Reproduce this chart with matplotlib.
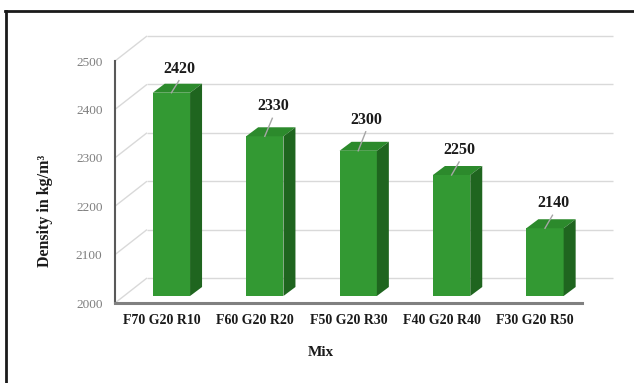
import matplotlib
matplotlib.use("Agg")
import matplotlib.pyplot as plt
import numpy as np
from matplotlib.patches import Polygon
from matplotlib.lines import Line2D

mixes = ["F70 G20 R10", "F60 G20 R20", "F50 G20 R30", "F40 G20 R40", "F30 G20 R50"]
density = [2420, 2330, 2300, 2250, 2140]
y_ticks = [2000, 2100, 2200, 2300, 2400, 2500]

# how far each value label sits above its bar (px), as placed in the original
label_lift = [24, 30, 31, 25, 25]

W, H = 634, 383
FRONT_FACE = "#339933"
TOP_FACE = "#2c8a2c"
SIDE_FACE = "#1f651f"
GRID = "#d9d9d9"

plt.rcParams["font.family"] = ["Liberation Serif", "DejaVu Serif"]


def px(v):
    return v / W


def py(v):
    return 1 - v / H


def run():
    fig = plt.figure(figsize=(W / 100, H / 100), dpi=100)
    # front plane of the 3D chart
    left, right, top, bottom = 115, 582, 61, 303
    ax = fig.add_axes([px(left), py(bottom), (right - left) / W, (bottom - top) / H])
    n = len(mixes)
    ax.set_xlim(-0.5, n - 0.5)
    ax.set_ylim(y_ticks[0], y_ticks[-1])

    ux = (right - left) / n                        # px per category
    uy = (bottom - top) / (y_ticks[-1] - y_ticks[0])  # px per unit

    def dx(p):
        return p / ux

    def dy(p):
        return p / uy

    # back wall gridlines and the diagonals that join them to the axis
    wall_x, wall_y = dx(32), dy(25)
    x_end = n - 0.5 + dx(31)
    for v in y_ticks:
        ax.plot([-0.5, -0.5 + wall_x], [v, v + wall_y], color=GRID, lw=1,
                zorder=0, clip_on=False, solid_capstyle="butt")
        ax.plot([-0.5 + wall_x, x_end], [v + wall_y, v + wall_y], color=GRID,
                lw=1, zorder=0, clip_on=False, solid_capstyle="butt")

    # bars: front face, top face, side face
    x = np.arange(n)
    off_x, off_y = dx(9.7), dy(7)
    depth_x, depth_y = dx(12), dy(9)
    w = 37.3 / ux
    base = y_ticks[0] + off_y
    for i, val in enumerate(density):
        xl = x[i] + off_x - w / 2
        xr = xl + w
        t = val + off_y
        ax.bar(xl + w / 2, t - base, bottom=base, width=w, color=FRONT_FACE,
               zorder=3, clip_on=False)
        ax.add_patch(Polygon([(xl, t), (xl + depth_x, t + depth_y),
                              (xr + depth_x, t + depth_y), (xr, t)],
                             closed=True, facecolor=TOP_FACE, edgecolor="none",
                             zorder=3, clip_on=False))
        ax.add_patch(Polygon([(xr, base), (xr + depth_x, base + depth_y),
                              (xr + depth_x, t + depth_y), (xr, t)],
                             closed=True, facecolor=SIDE_FACE, edgecolor="none",
                             zorder=3, clip_on=False))

        fc = x[i] + off_x
        lift = label_lift[i]
        ax.text(fc + dx(8), t + dy(lift), str(val), ha="center", va="center",
                fontsize=11.5, fontweight="bold", color="#1a1a1a", zorder=5)
        ax.plot([fc + dx(7.5), fc], [t + dy(lift - 12), t], color="#a6a6a6",
                lw=1, zorder=4, clip_on=False)

    for side in ["top", "right"]:
        ax.spines[side].set_visible(False)
    ax.spines["left"].set_color("#595959")
    ax.spines["left"].set_linewidth(1.5)
    ax.spines["bottom"].set_color("#808080")
    ax.spines["bottom"].set_linewidth(2.2)
    ax.patch.set_visible(False)

    ax.set_yticks(y_ticks)
    ax.set_yticklabels([str(v) for v in y_ticks], fontsize=9.5, color="#7f7f7f")
    ax.tick_params(axis="y", length=0, pad=9)
    ax.set_xticks(x)
    ax.set_xticklabels(mixes, fontsize=10, fontweight="bold", color="#1a1a1a")
    ax.tick_params(axis="x", length=0, pad=8)

    fig.text(px(45), py(211), "Density in kg/m³", rotation=90, ha="center",
             va="center", fontsize=11.5, fontweight="bold", color="#1a1a1a")
    fig.text(px(320.5), py(352), "Mix", ha="center", va="center",
             fontsize=11, fontweight="bold", color="#1a1a1a")

    # outer frame (only top and left edges show in the original)
    fig.add_artist(Line2D([px(5), 1], [py(11), py(11)], color="#1a1a1a", lw=2))
    fig.add_artist(Line2D([px(6), px(6)], [0, py(11)], color="#1a1a1a", lw=2))

    fig.savefig("out.png", dpi=100)


if __name__ == "__main__":
    run()
